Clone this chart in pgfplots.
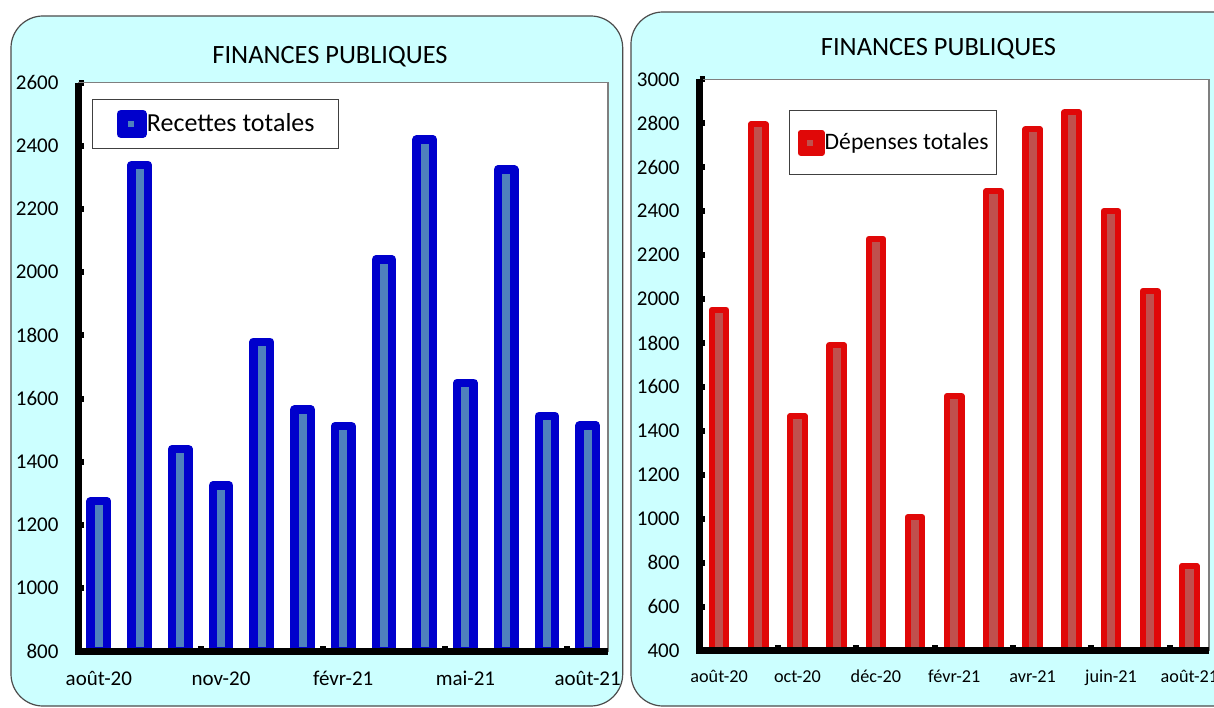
\documentclass[border=0pt]{standalone}
\usepackage{pgfplots}
\pgfplotsset{compat=1.18}
\usepackage{fontspec}
\setmainfont{Carlito}

\definecolor{panel}{HTML}{CCFFFF}
\definecolor{bordblue}{HTML}{0000CC}
\definecolor{fillblue}{HTML}{4F81BD}
\definecolor{bordred}{HTML}{E00808}
\definecolor{fillred}{HTML}{C0504D}
\definecolor{framegray}{HTML}{7F7F7F}

\pgfplotsset{
  fp/.style={
    scale only axis,
    ybar,
    xmin=-0.5, xmax=12.5,
    axis background/.style={fill=white},
    axis line style={draw=framegray, line width=0.6pt},
    tick pos=left,
    tick align=inside,
    major tick length=2.75pt,
    tick style={black, line width=3pt},
    yticklabel style={font=\fontsize{10.5}{12}\selectfont, xshift=-6.5pt},
    /pgf/number format/assume math mode=true,
    /pgf/number format/1000 sep={},
    xticklabels={},
    extra x tick style={major tick length=0pt},
    legend style={anchor=north west, draw=black!75, line width=0.5pt, fill=white,
      nodes={inner sep=0pt}, cells={anchor=west}},
  }
}

\begin{document}
\begin{tikzpicture}
\path[use as bounding box] (0,0) rectangle (607pt,353.5pt);
\fill[white] (0,0) rectangle (607pt,353.5pt);
\begin{scope}
  \clip (0,0) rectangle (607pt,353.5pt);
  \draw[fill=panel, draw=black!70, line width=0.6pt, rounded corners=16pt] (5.5pt,0.5pt) rectangle (311.35pt,345.5pt);
  \draw[fill=panel, draw=black!70, line width=0.6pt, rounded corners=16pt] (315.5pt,0.5pt) rectangle (625pt,347.5pt);
\end{scope}

\node[anchor=base, font=\fontsize{13.2}{15}\selectfont] at (165pt,321.5pt) {FINANCES PUBLIQUES};
\node[anchor=base, font=\fontsize{13.2}{15}\selectfont] at (469.25pt,325.5pt) {FINANCES PUBLIQUES};

% Recettes totales
\begin{axis}[fp, name=a1,
  at={(39.25pt,27.85pt)}, anchor=south west,
  width=264.75pt, height=284.3pt,
  ymin=800, ymax=2600, ytick={800,1000,...,2600},
  bar width=8.2pt,
  xtick={2.5,5.5,8.5,11.5},
  extra x ticks={0,3,6,9,12},
  extra x tick labels={août-20,nov-20,févr-21,mai-21,août-21},
  xticklabel style={font=\fontsize{10.5}{12}\selectfont, text height=8pt, yshift=-5.7pt},
  legend style={at={(rel axis cs:0.0255,0.971)}, inner xsep=12pt, inner ysep=5pt,
    font=\fontsize{13}{15}\selectfont},
  legend image code/.code={
    \path[use as bounding box] (0pt,-5pt) rectangle (11pt,5pt);
    \draw[#1, line width=3.5pt, line join=round] (1.75pt,-3.25pt) rectangle (8.25pt,3.25pt);},
]
\addplot[draw=bordblue, fill=fillblue, line width=4.2pt, line join=round] coordinates {
(0,1275) (1,2340) (2,1440) (3,1325) (4,1780) (5,1565) (6,1513)
(7,2040) (8,2420) (9,1650) (10,2325) (11,1545) (12,1515)};
\addlegendentry{Recettes totales}
\end{axis}
\draw[line width=3.5pt] (a1.north west) -- (a1.south west) -- (a1.south east);

% Depenses totales
\begin{axis}[fp, name=a2,
  at={(349.75pt,28.25pt)}, anchor=south west,
  width=254.75pt, height=285.6pt,
  ymin=400, ymax=3000, ytick={400,600,...,3000},
  bar width=7.25pt,
  xtick={1.5,3.5,5.5,7.5,9.5,11.5},
  extra x ticks={0,2,4,6,8,10,12},
  extra x tick labels={août-20,oct-20,déc-20,févr-21,avr-21,juin-21,août-21},
  xticklabel style={font=\fontsize{9.1}{11}\selectfont, text height=7pt, yshift=-5.25pt},
  legend style={at={(rel axis cs:0.1757,0.946)}, inner xsep=4pt, inner ysep=9.5pt,
    font=\fontsize{11.8}{14}\selectfont},
  legend image code/.code={
    \path[use as bounding box] (0pt,-5pt) rectangle (10.5pt,5pt);
    \draw[#1, line width=3.4pt, line join=round] (1.7pt,-3.2pt) rectangle (8.1pt,3.2pt);},
]
\addplot[draw=bordred, fill=fillred, line width=3.1pt, line join=round] coordinates {
(0,1950) (1,2795) (2,1467) (3,1790) (4,2273) (5,1007) (6,1558)
(7,2490) (8,2773) (9,2850) (10,2400) (11,2037) (12,785)};
\addlegendentry{Dépenses totales}
\end{axis}
\draw[line width=3.5pt] (a2.north west) -- (a2.south west) -- (a2.south east);
\end{tikzpicture}
\end{document}
